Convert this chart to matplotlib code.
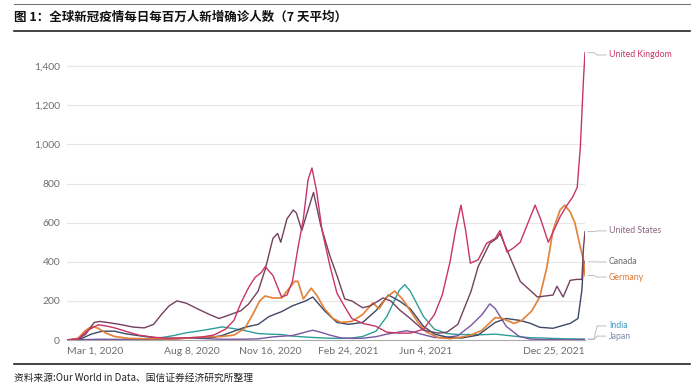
import matplotlib
matplotlib.use("Agg")
import matplotlib.pyplot as plt
import matplotlib.dates as mdates
import numpy as np
import pandas as pd

plt.rcParams['font.family'] = ['Lato', 'DejaVu Sans']

# ---------------- data (7-day avg new cases per million) ----------------
uk_dates = ["2020-03-01","2020-03-15","2020-03-28","2020-04-10","2020-04-20","2020-05-01","2020-05-15",
            "2020-06-01","2020-06-20","2020-07-10","2020-08-01","2020-08-20","2020-09-05","2020-09-20",
            "2020-10-01","2020-10-10","2020-10-20","2020-10-28","2020-11-05","2020-11-10","2020-11-20",
            "2020-12-01","2020-12-08","2020-12-15","2020-12-22","2020-12-29","2021-01-04","2021-01-09",
            "2021-01-15","2021-01-22","2021-02-01","2021-02-10","2021-02-20","2021-03-01","2021-03-15",
            "2021-04-01","2021-04-15","2021-05-01","2021-05-15","2021-06-01","2021-06-15","2021-06-25",
            "2021-07-05","2021-07-12","2021-07-19","2021-07-25","2021-07-31","2021-08-10","2021-08-21",
            "2021-09-01","2021-09-07","2021-09-16","2021-09-24","2021-10-03","2021-10-12","2021-10-22",
            "2021-10-29","2021-11-08","2021-11-15","2021-11-23","2021-12-02","2021-12-09","2021-12-15",
            "2021-12-19","2021-12-23","2021-12-25"]
uk_vals = [0,5,50,78,72,62,45,
           25,14,9,11,15,25,55,
           100,190,270,320,345,375,330,
           220,230,300,470,620,820,880,
           760,560,380,240,170,110,85,
           70,40,35,35,55,130,230,
           400,560,690,560,393,410,495,
           520,560,450,470,500,590,690,
           620,500,560,630,690,730,780,
           985,1330,1470]

us_dates = ["2020-03-01","2020-03-15","2020-03-25","2020-04-05","2020-04-12","2020-04-25","2020-05-10",
            "2020-05-25","2020-06-08","2020-06-20","2020-07-01","2020-07-10","2020-07-20","2020-08-01",
            "2020-08-15","2020-09-01","2020-09-12","2020-09-25","2020-10-10","2020-10-20","2020-11-01",
            "2020-11-10","2020-11-20","2020-11-26","2020-11-30","2020-12-08","2020-12-16","2020-12-20",
            "2020-12-27","2021-01-02","2021-01-11","2021-01-20","2021-02-01","2021-02-10","2021-02-20",
            "2021-03-01","2021-03-15","2021-03-25","2021-04-10","2021-04-20","2021-05-01","2021-05-15",
            "2021-06-01","2021-06-20","2021-07-01","2021-07-15","2021-08-01","2021-08-10","2021-08-25",
            "2021-09-03","2021-09-07","2021-09-15","2021-10-03","2021-10-25","2021-11-14","2021-11-19",
            "2021-11-27","2021-12-06","2021-12-14","2021-12-21","2021-12-23","2021-12-25"]
us_vals = [0,4,30,90,95,88,78,
           66,62,80,135,175,200,188,
           160,128,110,128,150,185,250,
           360,520,545,500,620,665,650,
           560,640,755,590,430,330,210,
           200,165,175,215,200,155,110,
           50,35,40,80,250,375,495,
           520,545,470,300,220,230,275,
           220,305,310,310,470,555]

de_dates = ["2020-03-01","2020-03-15","2020-03-25","2020-04-02","2020-04-10","2020-04-20","2020-05-01",
            "2020-05-20","2020-06-20","2020-07-15","2020-08-10","2020-08-25","2020-09-15","2020-10-01",
            "2020-10-15","2020-10-25","2020-11-03","2020-11-10","2020-11-20","2020-12-01","2020-12-10",
            "2020-12-18","2020-12-22","2020-12-29","2021-01-08","2021-01-15","2021-01-25","2021-02-05",
            "2021-02-15","2021-03-01","2021-03-15","2021-03-28","2021-04-05","2021-04-15","2021-04-25",
            "2021-05-05","2021-05-15","2021-05-25","2021-06-05","2021-06-20","2021-07-05","2021-07-20",
            "2021-08-01","2021-08-15","2021-09-01","2021-09-10","2021-09-25","2021-10-05","2021-10-18",
            "2021-10-28","2021-11-06","2021-11-14","2021-11-23","2021-11-29","2021-12-06","2021-12-12",
            "2021-12-19","2021-12-23","2021-12-25"]
de_vals = [0,8,50,70,60,35,18,
           8,6,5,12,15,18,25,
           60,130,200,225,215,215,260,
           300,300,210,265,230,160,110,
           90,95,130,190,160,220,250,
           210,150,90,40,12,7,15,
           25,50,115,110,85,100,150,
           220,370,560,665,690,655,600,
           475,410,330]

ca_dates = ["2020-03-01","2020-03-20","2020-04-01","2020-04-15","2020-05-01","2020-05-15","2020-06-01",
            "2020-07-01","2020-08-01","2020-09-01","2020-09-15","2020-10-01","2020-10-15","2020-11-01",
            "2020-11-15","2020-12-01","2020-12-15","2021-01-01","2021-01-10","2021-01-25","2021-02-10",
            "2021-02-25","2021-03-15","2021-04-01","2021-04-17","2021-05-01","2021-05-15","2021-06-01",
            "2021-06-15","2021-07-01","2021-07-20","2021-08-10","2021-09-01","2021-09-15","2021-10-03",
            "2021-10-16","2021-10-28","2021-11-14","2021-12-06","2021-12-16","2021-12-21","2021-12-23",
            "2021-12-25"]
ca_vals = [0,8,30,45,45,32,22,
           8,10,12,22,45,65,80,
           120,145,175,200,220,150,90,
           80,90,150,230,200,160,70,
           30,15,10,25,90,110,100,
           85,65,60,85,110,255,390,
           400]

in_dates = ["2020-03-01","2020-04-15","2020-05-15","2020-06-01","2020-06-15","2020-07-01","2020-07-15",
            "2020-08-01","2020-08-15","2020-09-01","2020-09-16","2020-10-01","2020-10-15","2020-11-01",
            "2020-11-15","2020-12-01","2020-12-15","2021-01-01","2021-01-15","2021-02-01","2021-02-15",
            "2021-03-01","2021-03-15","2021-04-01","2021-04-15","2021-05-01","2021-05-08","2021-05-15",
            "2021-06-01","2021-06-15","2021-07-01","2021-07-15","2021-08-01","2021-08-15","2021-09-01",
            "2021-09-15","2021-10-01","2021-10-15","2021-11-01","2021-11-15","2021-12-01","2021-12-25"]
in_vals = [0,1,3,5,9,13,22,
           37,45,56,67,58,48,33,
           30,28,20,15,12,9,8,
           10,18,45,120,255,283,250,
           120,55,33,28,28,27,30,
           24,17,12,10,8,6,5]

jp_dates = ["2020-03-01","2020-04-12","2020-05-01","2020-06-01","2020-07-15","2020-08-05","2020-08-20",
            "2020-09-15","2020-10-15","2020-11-01","2020-11-20","2020-12-15","2021-01-10","2021-01-20",
            "2021-02-01","2021-02-15","2021-03-01","2021-03-15","2021-04-01","2021-04-15","2021-05-10",
            "2021-05-20","2021-06-01","2021-06-15","2021-07-01","2021-07-15","2021-08-01","2021-08-15",
            "2021-08-25","2021-09-01","2021-09-15","2021-10-01","2021-10-15","2021-11-01","2021-12-01",
            "2021-12-25"]
jp_vals = [0,4,3,1,4,11,8,
           4,4,6,16,23,50,40,
           25,11,8,9,17,30,47,
           40,27,13,13,22,75,130,
           185,160,70,20,5,2,1,
           2]

x_tick_dates = ["2020-03-01","2020-08-08","2020-11-16","2021-02-24","2021-06-04","2021-12-25"]
x_tick_labels = ["Mar 1, 2020","Aug 8, 2020","Nov 16, 2020","Feb 24, 2021","Jun 4, 2021","Dec 25, 2021"]
y_ticks = [0, 200, 400, 600, 800, 1000, 1200, 1400]

series = [
    ("United Kingdom", uk_dates, uk_vals, "#c93466", "#c93466", 1458),
    ("United States", us_dates, us_vals, "#74405f", "#8a6680", 558),
    ("Canada", ca_dates, ca_vals, "#3e4866", "#6b6b6b", 399),
    ("Germany", de_dates, de_vals, "#e8822e", "#dc7a35", 322),
    ("India", in_dates, in_vals, "#2f9e98", "#3a9cc0", 72),
    ("Japan", jp_dates, jp_vals, "#7a55a0", "#7a8aa8", 20),
]

# ---------------- figure ----------------
W, H = 700, 390
fig = plt.figure(figsize=(7, 3.9), dpi=100)
ax_left, ax_right = 67 / W, 585 / W
ax_bottom = 1 - 340 / H
ax_top = ax_bottom + 1480 * 0.1955 / H
ax = fig.add_axes([ax_left, ax_bottom, ax_right - ax_left, ax_top - ax_bottom])

x0 = pd.Timestamp("2020-03-01")
x1 = pd.Timestamp("2021-12-25")
ax.set_xlim(x0, x1)
ax.set_ylim(0, 1480)

for yv in y_ticks[1:]:
    ax.axhline(yv, color="#e6e6e6", lw=0.8, zorder=0)

draw_order = ["India", "Japan", "Canada", "Germany", "United States", "United Kingdom"]
lookup = {s[0]: s for s in series}
for name in draw_order:
    n, d, v, lc, tc, ly = lookup[name]
    dd = pd.to_datetime(d)
    if name == "Germany":
        ax.plot(dd, v, color="#a8421c", lw=1.3, alpha=0.35, solid_joinstyle="round", zorder=3)
    ax.plot(dd, v, color=lc, lw=1.0, solid_joinstyle="round", zorder=4)

for s in ["top", "right", "left"]:
    ax.spines[s].set_visible(False)
ax.spines["bottom"].set_color("#aaaaaa")
ax.spines["bottom"].set_linewidth(0.8)

ax.set_yticks(y_ticks)
ax.set_yticklabels([f"{t:,}" for t in y_ticks])
ax.tick_params(axis="y", length=0, pad=5, labelsize=7.5, labelcolor="#6e6e6e")
ax.set_xticks(pd.to_datetime(x_tick_dates))
ax.set_xticklabels(x_tick_labels)
ax.tick_params(axis="x", length=0, pad=5, labelsize=7.5, labelcolor="#6e6e6e")
xt = ax.get_xticklabels()
xt[0].set_ha("left")
xt[-1].set_ha("right")

fig.canvas.draw()
for n, d, v, lc, tc, ly in series:
    end_disp = ax.transData.transform((mdates.date2num(pd.Timestamp(d[-1])), v[-1]))
    ex, ey = end_disp[0], end_disp[1]
    lyy = ax.transData.transform((0, ly))[1]
    xs = [ex + 3, ex + 9, ex + 12, 606]
    ys = [ey, ey, lyy, lyy]
    fig.add_artist(plt.Line2D(xs, ys, transform=None, color="#b5b5b5", lw=0.6))
    fig.text(609 / W, lyy / H, n, color=tc, fontsize=6.3, va="center", ha="left")

# header / footer
fig.add_artist(plt.Line2D([14 / W, 690 / W], [1 - 4 / H, 1 - 4 / H], color="#777777", lw=0.8))
fig.text(14 / W, 1 - 17 / H, "图 1：全球新冠疫情每日每百万人新增确诊人数（7 天平均）",
         family=["Noto Sans CJK SC", "DejaVu Sans"], fontweight="bold", fontsize=9,
         va="center", ha="left", color="#111111")
fig.add_artist(plt.Line2D([14 / W, 690 / W], [1 - 31 / H, 1 - 31 / H], color="#222222", lw=1.2))
fig.add_artist(plt.Line2D([14 / W, 690 / W], [1 - 364 / H, 1 - 364 / H], color="#222222", lw=1.2))
fig.text(14 / W, 1 - 378 / H, "资料来源:Our World in Data、国信证券经济研究所整理",
         family=["Noto Sans CJK SC", "DejaVu Sans"], fontsize=7, va="center", ha="left",
         color="#222222")

fig.savefig("out.png", dpi=100)
